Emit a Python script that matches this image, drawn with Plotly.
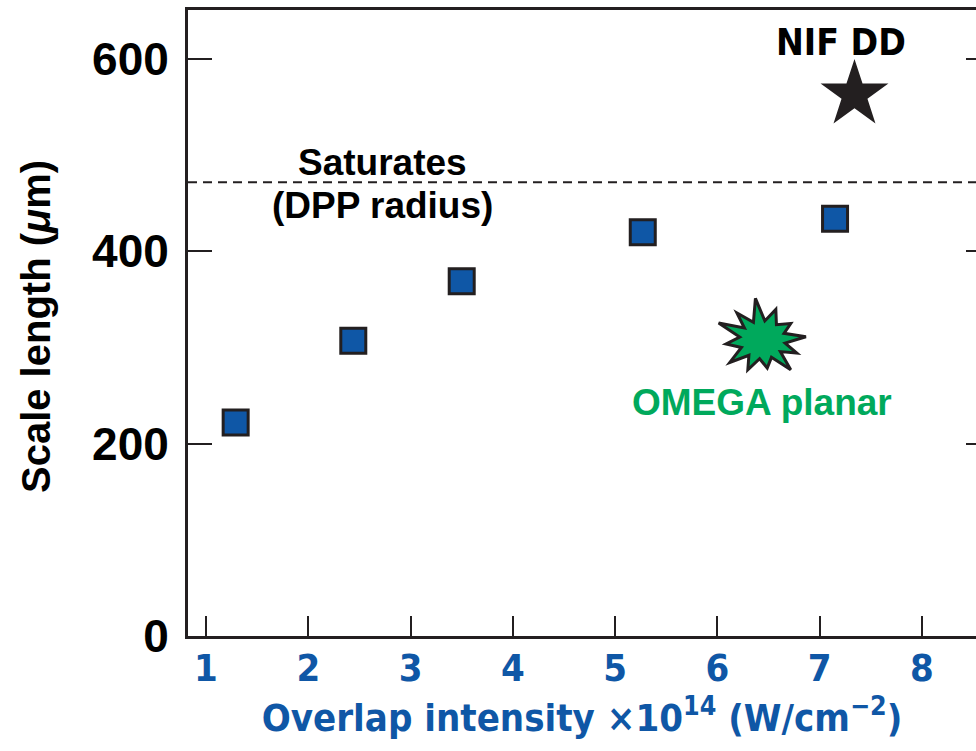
import math
import plotly.graph_objects as go

# ---- data ----
intensity = [1.29, 2.44, 3.50, 5.27, 7.15]
scale_length = [222, 307, 369, 420, 434]
nif_x = [7.34]
nif_y = [563]
omega_x = 6.44
omega_y = 308
saturation_level = 472
x_ticks = [1, 2, 3, 4, 5, 6, 7, 8]
y_ticks = [0, 200, 400, 600]

BLUE = "#0f57a6"
GREEN = "#00a95c"
DARK = "#231f20"
BOLD = "Liberation Sans"
NARROW = "Liberation Sans Narrow, DejaVu Sans Condensed, Arial Narrow, Liberation Sans"

fig = go.Figure()

fig.add_trace(go.Scatter(
    x=intensity, y=scale_length, mode="markers",
    marker=dict(symbol="square", size=25, color=BLUE,
                line=dict(color=DARK, width=3)),
    showlegend=False, hoverinfo="skip"))

fig.add_trace(go.Scatter(
    x=nif_x, y=nif_y, mode="markers",
    marker=dict(symbol="star", size=51, color=DARK, line=dict(width=0)),
    showlegend=False, hoverinfo="skip"))

# invisible trace on the right axis to show right-side ticks
fig.add_trace(go.Scatter(x=[intensity[0]], y=[scale_length[0]], yaxis="y2",
                         mode="markers", marker=dict(opacity=0),
                         showlegend=False, hoverinfo="skip"))

# burst shape (pixel-sized, anchored at the OMEGA data point)
outer = [42, 36, 44, 34, 30, 38, 33, 40, 30, 34, 37, 32]
angles0 = [math.radians(a) for a in (155, 128, 98, 70, 35, 5, -25, -52, -82, -112, -140, -172)]
inner_r = 20
pts = []
n = len(outer)
for i in range(n):
    a = angles0[i]
    pts.append((outer[i] * math.cos(a) * 1.15, outer[i] * math.sin(a) * 0.95))
    a_next = angles0[(i + 1) % n]
    if a_next > a:
        a_next -= 2 * math.pi
    am = (a + a_next) / 2
    pts.append((inner_r * math.cos(am) * 1.15, inner_r * math.sin(am) * 0.95))
path = "M " + " L ".join(f"{px:.1f},{py:.1f}" for px, py in pts) + " Z"
fig.add_shape(type="path", path=path, xsizemode="pixel", ysizemode="pixel",
              xanchor=omega_x, yanchor=omega_y, xref="x", yref="y",
              fillcolor=GREEN, line=dict(color=DARK, width=3))

# saturation dashed line
fig.add_shape(type="line", xref="paper", x0=0, x1=1, yref="y",
              y0=saturation_level, y1=saturation_level,
              line=dict(color=DARK, width=2, dash="9px,6px"))

fig.add_annotation(x=7.21, y=617, text="NIF DD", showarrow=False,
                   font=dict(family=NARROW, size=37, color="black", weight="bold"))
fig.add_annotation(x=2.73, y=492, text="Saturates", showarrow=False,
                   font=dict(family=BOLD, size=37, color="black", weight="bold"))
fig.add_annotation(x=2.73, y=448, text="(DPP radius)", showarrow=False,
                   font=dict(family=BOLD, size=37, color="black", weight="bold"))
fig.add_annotation(x=6.44, y=243, text="OMEGA planar", showarrow=False,
                   font=dict(family=BOLD, size=37, color=GREEN, weight="bold"))

# y-axis title placed as a rotated annotation
fig.add_annotation(xref="paper", yref="paper", x=-0.193, y=0.495,
                   xanchor="center", yanchor="middle", textangle=-90,
                   text="Scale length (<i>\u03bc</i>m)", showarrow=False,
                   font=dict(family=BOLD, size=40, color="black", weight="bold"))

fig.update_layout(
    width=976, height=751,
    margin=dict(l=188, r=0, t=10, b=115),
    plot_bgcolor="white", paper_bgcolor="white",
    xaxis=dict(range=[0.824, 8.528], tickvals=x_ticks, ticks="inside",
               ticklen=20, tickwidth=2, tickcolor=DARK,
               showline=True, linewidth=3, linecolor=DARK, mirror=True,
               showgrid=False, zeroline=False,
               tickfont=dict(family=NARROW, size=38, color=BLUE, weight="bold"),
               ticklabelstandoff=-4,
               title=dict(text="Overlap intensity \u00d710<sup>14</sup> (W/cm<sup>\u22122</sup>)",
                          font=dict(family=NARROW, size=38, color=BLUE, weight="bold"),
                          standoff=12)),
    yaxis=dict(range=[0, 651], tickvals=y_ticks, ticks="inside",
               ticklen=24, tickwidth=2, tickcolor=DARK,
               showline=True, linewidth=3, linecolor=DARK, mirror=False,
               showgrid=False, zeroline=False,
               tickfont=dict(family=BOLD, size=46, color="black", weight="bold"),
               ticklabelstandoff=7),
    yaxis2=dict(range=[0, 651], tickvals=y_ticks, ticks="inside", ticklen=10,
                tickwidth=2, tickcolor=DARK, overlaying="y", side="right",
                showticklabels=False, showline=False, showgrid=False,
                zeroline=False),
)

fig.write_html("out.html")
